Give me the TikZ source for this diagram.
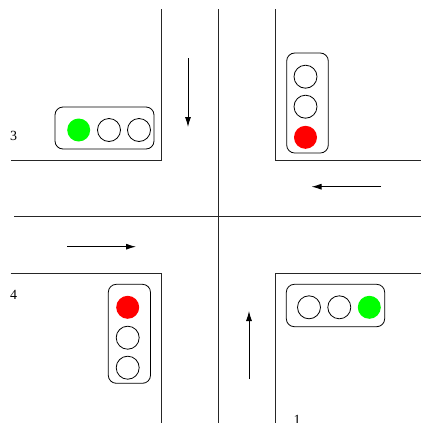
\documentclass[tikz,border=0pt]{standalone}
\usepackage{fontspec}
\setmainfont{Liberation Serif}
\usetikzlibrary{arrows.meta}
\tikzset{
  road/.style={line width=0.9bp, black!85},
  flow/.style={line width=0.9bp, -{Latex[length=10bp,width=6bp]}},
  housing/.style={draw, line width=0.8bp, rounded corners=8bp},
  lamp/.style={circle, draw, line width=0.8bp, minimum size=23bp, inner sep=0pt},
  lampred/.style={lamp, draw=none, fill=red},
  lampgreen/.style={lamp, draw=none, fill=green},
  lbl/.style={font=\fontsize{14bp}{16bp}\selectfont, inner sep=0pt}
}
\begin{document}
\begin{tikzpicture}[x=1bp,y=-1bp]
\useasboundingbox (0,0) rectangle (421,423);
% roads
\draw[road] (161.7,9) -- (161.7,160) -- (10.7,160);
\draw[road] (275,9) -- (275,160) -- (421,160);
\draw[road] (10.7,273.3) -- (161.7,273.3) -- (161.7,423);
\draw[road] (421,273.3) -- (275,273.3) -- (275,423);
\draw[road] (218.3,9) -- (218.3,423);
\draw[road] (14,216.5) -- (421,216.5);
% direction arrows
\coordinate (d1) at (188,58); \coordinate (d2) at (188,127);
\coordinate (l1) at (381,186.7); \coordinate (l2) at (311.5,186.7);
\coordinate (r1) at (67,246.7); \coordinate (r2) at (136,246.7);
\coordinate (u1) at (249,379); \coordinate (u2) at (249,311);
\draw[flow] (d1) -- (d2);
\draw[flow] (l1) -- (l2);
\draw[flow] (r1) -- (r2);
\draw[flow] (u1) -- (u2);
% light 3 (horizontal, green left)
\draw[housing] (55,107) rectangle (154,149);
\node[lampgreen] (g3a) at (78.7,130) {};
\node[lamp] (g3b) at (109,130) {};
\node[lamp] (g3c) at (139,130) {};
% light 2 (vertical, red bottom)
\draw[housing] (286.7,53) rectangle (328.3,153);
\node[lamp] (g2a) at (305.5,76.7) {};
\node[lamp] (g2b) at (305.5,106.7) {};
\node[lampred] (g2c) at (305.5,137.3) {};
% light 4 (vertical, red top)
\draw[housing] (108.3,284.3) rectangle (150.5,383.3);
\node[lampred] (g4a) at (127.7,307.3) {};
\node[lamp] (g4b) at (127.7,337.7) {};
\node[lamp] (g4c) at (127.7,367.7) {};
% light 1 (horizontal, green right)
\draw[housing] (286.3,284.3) rectangle (384.7,326.7);
\node[lamp] (g1a) at (309,307.3) {};
\node[lamp] (g1b) at (339.3,307.3) {};
\node[lampgreen] (g1c) at (369.3,307.3) {};
% labels
\node[lbl] (n3) at (13.5,136) {3};
\node[lbl] (n2) at (424,148) {2};
\node[lbl] (n4) at (13.5,295) {4};
\node[lbl] (n1) at (297,420) {1};
\end{tikzpicture}
\end{document}
